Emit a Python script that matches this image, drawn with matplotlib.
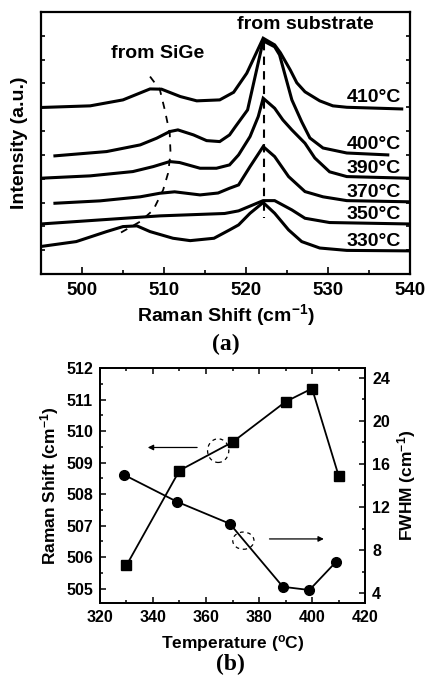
import matplotlib
matplotlib.use("Agg")
import matplotlib.pyplot as plt
from matplotlib.patches import Ellipse
from matplotlib.ticker import MultipleLocator

plt.rcParams['font.family'] = ['Liberation Sans', 'DejaVu Sans']
plt.rcParams['font.weight'] = 'bold'
plt.rcParams['mathtext.fontset'] = 'custom'
plt.rcParams['mathtext.rm'] = 'Liberation Sans:bold'
plt.rcParams['mathtext.bf'] = 'Liberation Sans:bold'
plt.rcParams['mathtext.it'] = 'Liberation Sans:bold'

# (a) Raman spectra, offset curves (arbitrary intensity units)
x410 = [494.9, 501.0, 505.0, 508.3, 509.7, 512.0, 514.0, 516.8, 518.5, 520.1, 522.1, 523.5, 524.2, 525.4, 526.2, 527.2, 529.0, 530.6, 532.3, 539.0]
y410 = [6.99, 7.06, 7.31, 7.77, 7.76, 7.45, 7.27, 7.31, 7.63, 8.43, 9.90, 9.62, 9.29, 8.57, 8.03, 7.65, 7.27, 7.06, 7.00, 6.93]
x400 = [496.7, 503.0, 507.1, 509.1, 510.7, 511.7, 513.6, 515.2, 516.8, 518.0, 518.7, 520.2, 522.1, 523.5, 524.1, 525.6, 526.8, 527.8, 529.4, 532.3, 537.3]
y400 = [4.96, 5.14, 5.42, 5.70, 5.98, 6.05, 5.84, 5.60, 5.56, 5.84, 6.18, 6.89, 9.79, 9.54, 9.20, 7.31, 6.39, 5.71, 5.29, 5.08, 5.00]
x390 = [494.9, 501.0, 506.2, 508.7, 510.7, 511.9, 514.4, 516.4, 518.0, 519.1, 520.5, 521.5, 522.1, 523.5, 524.5, 525.6, 527.2, 528.4, 530.2, 532.3, 540.0]
y390 = [4.02, 4.12, 4.30, 4.51, 4.72, 4.68, 4.44, 4.44, 4.58, 5.00, 5.77, 6.61, 7.38, 6.96, 6.47, 6.05, 5.49, 4.87, 4.29, 4.09, 4.02]
x370 = [496.7, 502.2, 507.1, 509.5, 511.3, 514.4, 516.6, 518.0, 519.1, 520.5, 522.1, 523.5, 525.2, 527.2, 529.4, 532.3, 540.0]
y370 = [2.97, 3.07, 3.24, 3.39, 3.45, 3.32, 3.40, 3.60, 3.74, 4.51, 5.35, 4.93, 4.09, 3.46, 3.24, 3.08, 3.03]
x350 = [495.0, 502.2, 509.5, 517.4, 519.1, 522.1, 523.5, 525.6, 527.2, 530.2, 540.0]
y350 = [2.10, 2.27, 2.44, 2.54, 2.65, 3.08, 3.08, 2.69, 2.34, 2.16, 2.10]
x330 = [494.9, 499.3, 503.0, 505.0, 506.7, 508.3, 511.1, 513.2, 516.1, 518.0, 519.1, 520.5, 522.1, 523.5, 525.2, 526.8, 529.0, 532.3, 540.0]
y330 = [1.15, 1.36, 1.78, 1.99, 2.02, 1.78, 1.50, 1.40, 1.50, 1.85, 2.06, 2.55, 3.00, 2.55, 1.85, 1.36, 1.09, 0.99, 0.97]
spectra = [(x410, y410, "410°C", 7.05), (x400, y400, "400°C", 5.1),
           (x390, y390, "390°C", 4.08), (x370, y370, "370°C", 3.08),
           (x350, y350, "350°C", 2.14), (x330, y330, "330°C", 1.02)]

# dashed guide through SiGe peak
sige_x = [508.3, 509.5, 510.1, 510.7, 510.8, 510.5, 509.9, 508.7, 507.1, 504.6]
sige_y = [8.29, 7.74, 6.89, 5.91, 5.07, 4.23, 3.53, 2.69, 2.20, 1.71]
sub_x = [522.2, 522.2]
sub_y = [9.75, 2.35]

# (b) peak position and FWHM vs temperature
temp_shift = [330, 350, 370, 390, 400, 410]
raman_shift = [505.74, 508.75, 509.65, 510.93, 511.35, 508.59]
temp_fwhm = [329, 349, 369, 389, 399, 409]
fwhm = [15.0, 12.5, 10.45, 4.6, 4.3, 6.9]

fig = plt.figure(figsize=(4.27, 6.79), dpi=100)

# ---- panel (a)
ax = fig.add_axes([0.096, 0.5965, 0.864, 0.3858])
for xs, ys, lab, ly in spectra:
    ax.plot(xs, ys, 'k-', lw=2.2, solid_joinstyle='miter')
    ax.text(538.9, ly, lab, ha='right', va='bottom', fontsize=14, fontweight='bold')
ax.plot(sige_x, sige_y, 'k--', lw=1.3, dashes=(4, 4))
ax.plot(sub_x, sub_y, 'k--', lw=1.5, dashes=(4, 3))
ax.text(509.2, 9.27, "from SiGe", ha='center', va='center', fontsize=14, fontweight='bold')
ax.text(527.3, 10.46, "from substrate", ha='center', va='center', fontsize=14, fontweight='bold')
ax.set_xlim(495, 540)
ax.set_ylim(0, 11)
ax.xaxis.set_major_locator(MultipleLocator(10))
ax.xaxis.set_minor_locator(MultipleLocator(5))
ax.yaxis.set_major_locator(MultipleLocator(1))
ax.set_yticklabels([])
ax.tick_params(which='both', direction='in', top=False, right=True, width=1.2)
ax.tick_params(axis='x', which='major', length=5, labelsize=13.5, pad=6)
ax.tick_params(axis='x', which='minor', length=3)
ax.tick_params(axis='y', length=3)
for s in ax.spines.values():
    s.set_linewidth(1.6)
ax.set_xlabel(r"Raman Shift (cm$^{\mathbf{-1}}$)", fontsize=14, fontweight='bold', labelpad=2)
ax.set_ylabel("Intensity (a.u.)", fontsize=14, fontweight='bold', labelpad=6)

fig.text(0.53, 0.492, "(a)", ha='center', va='center', fontsize=17,
         fontweight='bold', family='Liberation Serif')

# ---- panel (b)
bx = fig.add_axes([0.234, 0.112, 0.621, 0.346])
bx.plot(temp_shift, raman_shift, 'k-s', lw=1.3, ms=7)
bx.set_xlim(320, 420)
bx.set_ylim(504.55, 512)
bx.xaxis.set_major_locator(MultipleLocator(20))
bx.xaxis.set_minor_locator(MultipleLocator(10))
bx.yaxis.set_major_locator(MultipleLocator(1))
bx.yaxis.set_minor_locator(MultipleLocator(0.5))
bx.tick_params(which='both', direction='in', top=True, width=1.1)
bx.tick_params(which='major', length=4, labelsize=11.5, pad=5)
bx.tick_params(which='minor', length=2.5)
bx.set_xlabel(r"Temperature ($^{\mathbf{o}}$C)", fontsize=12.5, fontweight='bold', labelpad=6)
bx.set_ylabel(r"Raman Shift (cm$^{\mathbf{-1}}$)", fontsize=12.5, fontweight='bold', labelpad=4)
bx.annotate("", xy=(337, 509.48), xytext=(357.7, 509.48),
            arrowprops=dict(arrowstyle='-|>', color='k', lw=0.9, mutation_scale=8))
bx.add_patch(Ellipse((364.6, 509.38), 8.0, 0.75, fill=False, ls=(0, (3, 3)), lw=0.9))

bx2 = bx.twinx()
bx2.plot(temp_fwhm, fwhm, 'k-o', lw=1.3, ms=7)
bx2.set_ylim(3.1, 24.9)
bx2.yaxis.set_major_locator(MultipleLocator(4))
bx2.yaxis.set_minor_locator(MultipleLocator(2))
bx2.tick_params(which='both', direction='in', width=1.1)
bx2.tick_params(which='major', length=4, labelsize=11.5, pad=5)
bx2.tick_params(which='minor', length=2.5)
bx2.set_ylabel(r"FWHM (cm$^{\mathbf{-1}}$)", fontsize=12.5, fontweight='bold', labelpad=4)
bx2.annotate("", xy=(405.5, 9.04), xytext=(382.9, 9.04),
             arrowprops=dict(arrowstyle='-|>', color='k', lw=0.9, mutation_scale=8))
bx2.add_patch(Ellipse((374.1, 8.88), 8.0, 1.6, fill=False, ls=(0, (3, 3)), lw=0.9))
for a in (bx, bx2):
    for s in a.spines.values():
        s.set_linewidth(1.3)

fig.text(0.54, 0.021, "(b)", ha='center', va='center', fontsize=17,
         fontweight='bold', family='Liberation Serif')

fig.savefig("out.png", dpi=100)
